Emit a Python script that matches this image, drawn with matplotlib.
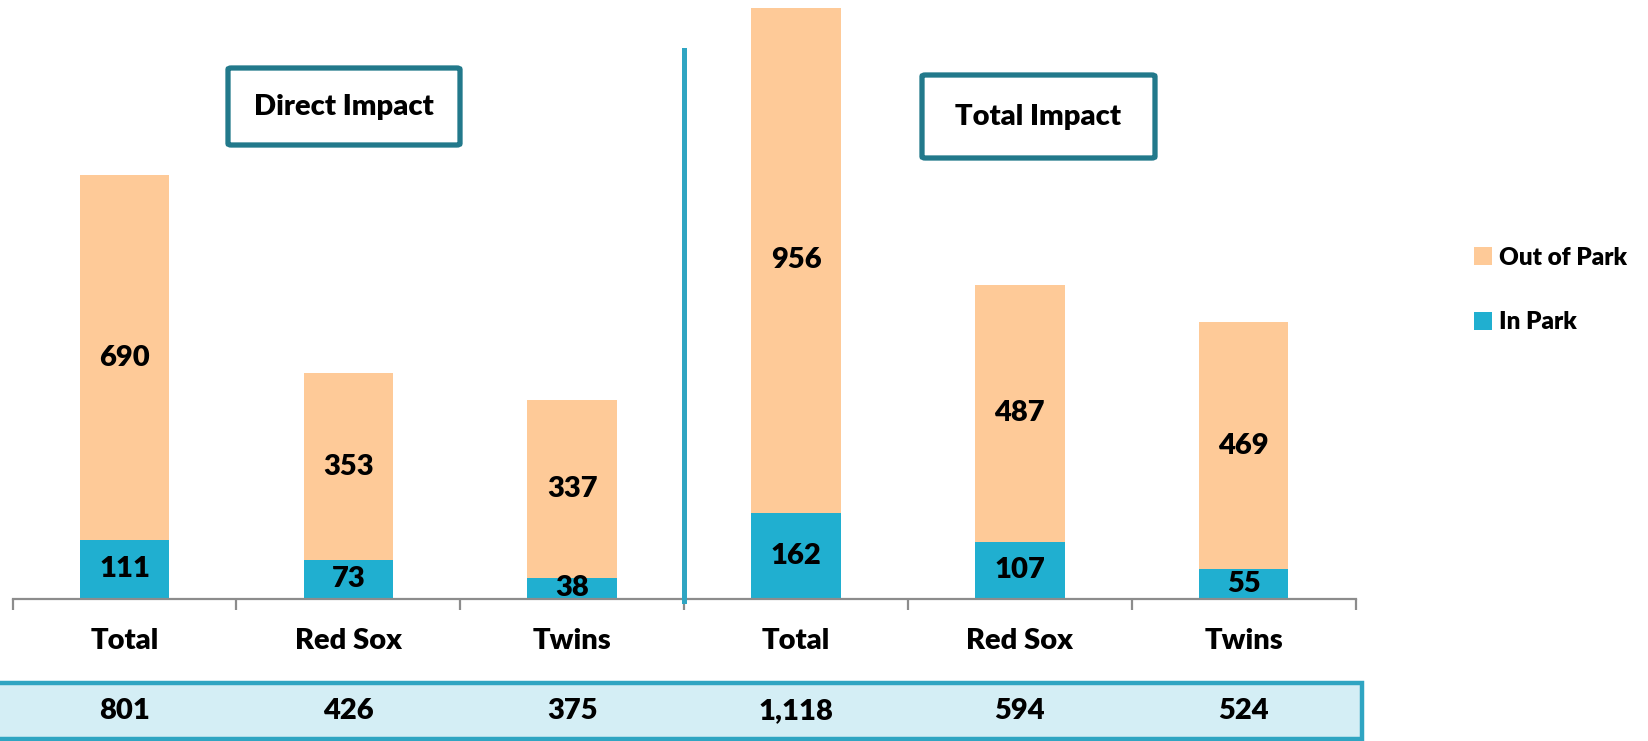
import matplotlib.pyplot as plt
from matplotlib.patches import Rectangle, FancyBboxPatch
from matplotlib.transforms import blended_transform_factory

plt.rcParams['font.family'] = ['Lato', 'DejaVu Sans']
plt.rcParams['font.weight'] = 'heavy'

categories = ['Total', 'Red Sox', 'Twins', 'Total', 'Red Sox', 'Twins']
in_park = [111, 73, 38, 162, 107, 55]
out_of_park = [690, 353, 337, 956, 487, 469]
panel_titles = ['Direct Impact', 'Total Impact']

c_out = '#FECA98'
c_in = '#20AFD0'
c_line = '#2FA5C2'
c_box = '#22798B'
FW = 'heavy'

W, H = 1649, 741
fig = plt.figure(figsize=(W / 100, H / 100), dpi=100)
ax = fig.add_axes([12.6 / W, 1 - 598.5 / H, (1355.6 - 12.6) / W, 598.5 / H])

x = list(range(len(categories)))
ax.bar(x, in_park, width=0.4, color=c_in, label='In Park', zorder=2)
ax.bar(x, out_of_park, width=0.4, bottom=in_park, color=c_out, label='Out of Park', zorder=2)

for xi, a, b in zip(x, in_park, out_of_park):
    ax.text(xi, a / 2, str(a), ha='center', va='center', fontsize=21, fontweight=FW, zorder=3)
    ax.text(xi, a + b / 2, str(b), ha='center', va='center', fontsize=21, fontweight=FW, zorder=3)

ax.set_xlim(-0.5, 5.5)
ax.set_ylim(0, 1133)
ax.set_yticks([])
for s in ['top', 'right', 'left']:
    ax.spines[s].set_visible(False)
ax.spines['bottom'].set_color('#8C8C8C')
ax.spines['bottom'].set_linewidth(1.6)

ax.set_xticks(x)
ax.set_xticklabels(categories, fontsize=21, fontweight=FW)
ax.tick_params(axis='x', which='major', length=0, pad=21)
ax.set_xticks([i - 0.5 for i in range(len(categories) + 1)], minor=True)
ax.tick_params(axis='x', which='minor', length=8, width=1.6, color='#8C8C8C')

# divider between panels
ax.plot([2.5, 2.5], [-5, 1038], color=c_line, lw=3.6, clip_on=False, zorder=4)

# panel title boxes (figure pixel coords)
for (x0, y0, x1, y1), title in zip([(228, 68, 460, 145), (922, 75, 1155, 158)], panel_titles):
    fig.patches.append(FancyBboxPatch((x0 / W, 1 - y1 / H), (x1 - x0) / W, (y1 - y0) / H,
                                      boxstyle='round,pad=0,rounding_size=0.002',
                                      transform=fig.transFigure, facecolor='white',
                                      edgecolor=c_box, linewidth=3.8))
    fig.text((x0 + x1) / 2 / W, 1 - (y0 + y1) / 2 / H, title, ha='center', va='center',
             fontsize=21, fontweight=FW)

# totals band at the bottom
fig.patches.append(Rectangle((-0.01, 1 - 739 / H), 1362.5 / W + 0.01, (739 - 683) / H,
                             transform=fig.transFigure, facecolor='#D4EEF5',
                             edgecolor=c_line, linewidth=3.2))
tr = blended_transform_factory(ax.transData, fig.transFigure)
for xi, a, b in zip(x, in_park, out_of_park):
    fig.text(xi, 1 - 711 / H, f'{a + b:,}', transform=tr, ha='center', va='center',
             fontsize=21, fontweight=FW, zorder=5)

handles, labels = ax.get_legend_handles_labels()
fig.legend(handles[::-1], labels[::-1], loc='center left', bbox_to_anchor=(1452 / W, 1 - 290 / H),
           frameon=False, handlelength=0.75, handleheight=0.75,
           handletextpad=0.3, labelspacing=1.75, prop={'weight': FW, 'size': 17.5})

fig.savefig('out.png', dpi=100)
